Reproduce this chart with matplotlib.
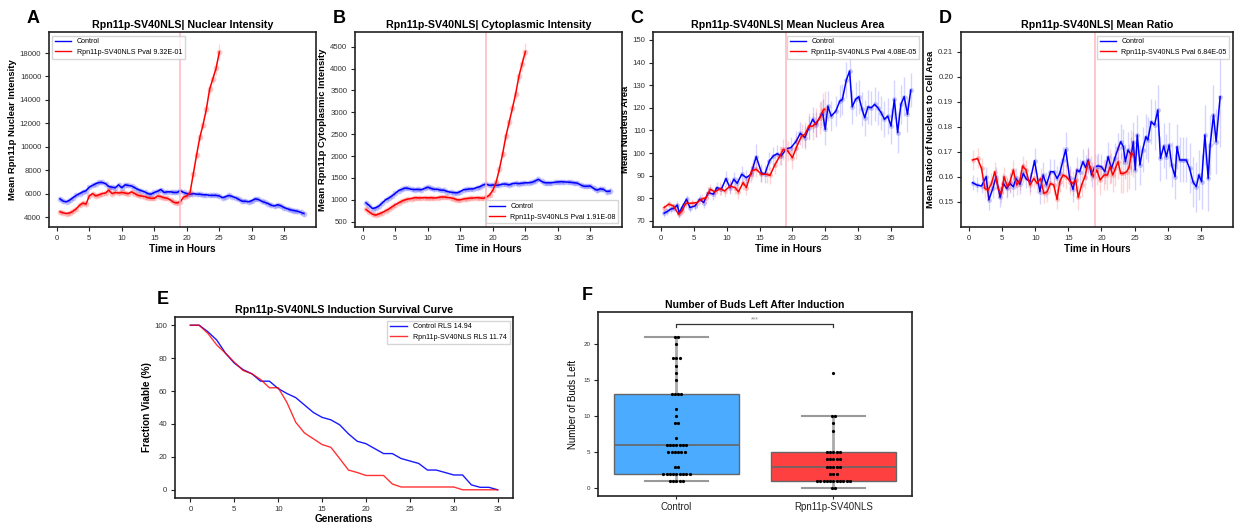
"""Rpn11p-SV40NLS induction figure: four time-course panels, survival curve
and a box/swarm plot of buds left. Saves out.png (1236x527)."""

from collections import Counter

import matplotlib
matplotlib.use("Agg")
import matplotlib.pyplot as plt
from matplotlib.lines import Line2D
import numpy as np

plt.rcParams["font.family"] = ["Liberation Sans", "DejaVu Sans"]

CTRL_COLOR = "#0000ff"
TRT_COLOR = "#ff0000"
TEXT_GRAY = "#333333"

# ---------------------------------------------------------------------- #
# A. nuclear intensity (0.5 h grid)
# ---------------------------------------------------------------------- #
a_ctrl_t = [0.5, 1.0, 1.5, 2.0, 2.5, 3.0, 3.5, 4.0, 4.5, 5.0, 5.5, 6.0, 6.5, 7.0,
            7.5, 8.0, 8.5, 9.0, 9.5, 10.0, 10.5, 11.0, 11.5, 12.0, 12.5, 13.0,
            13.5, 14.0, 14.5, 15.0, 15.5, 16.0, 16.5, 17.0, 17.5, 18.0, 18.5,
            19.0, 19.5, 20.0, 20.5, 21.0, 21.5, 22.0, 22.5, 23.0, 23.5, 24.0,
            24.5, 25.0, 25.5, 26.0, 26.5, 27.0, 27.5, 28.0, 28.5, 29.0, 29.5,
            30.0, 30.5, 31.0, 31.5, 32.0, 32.5, 33.0, 33.5, 34.0, 34.5, 35.0,
            35.5, 36.0, 36.5, 37.0, 37.5, 38.0]
a_ctrl = [5550, 5350, 5300, 5450, 5650, 5850, 6000, 6150, 6250, 6550, 6700, 6850,
          6950, 6950, 6850, 6600, 6550, 6500, 6750, 6500, 6750, 6700, 6650, 6500,
          6350, 6250, 6150, 6000, 5950, 6100, 6200, 6350, 6100, 6150, 6150, 6100,
          6100, 6250, 6100, 6000, 5950, 6000, 5950, 5950, 5900, 5900, 5850, 5850,
          5850, 5800, 5650, 5750, 5850, 5750, 5650, 5500, 5350, 5350, 5300, 5400,
          5550, 5500, 5350, 5250, 5150, 5000, 4950, 5050, 4950, 4800, 4700, 4600,
          4550, 4500, 4400, 4300]
a_ctrl_err = [140, 140, 130, 130, 130, 130, 130, 130, 130, 130, 130, 140, 140,
              140, 140, 140, 140, 140, 140, 140, 140, 140, 140, 140, 140, 140,
              140, 140, 140, 140, 140, 140, 140, 140, 140, 140, 140, 140, 140,
              140, 140, 140, 140, 140, 140, 140, 140, 140, 140, 140, 150, 150,
              150, 150, 150, 150, 150, 150, 150, 160, 160, 160, 160, 160, 160,
              170, 170, 170, 180, 180, 180, 190, 190, 200, 200, 250]
a_trt_t = a_ctrl_t[:50]
a_trt = [4450, 4350, 4300, 4350, 4500, 4700, 5000, 5200, 5100, 5800, 6000, 5800,
         5900, 6000, 6050, 6300, 6000, 6100, 6050, 6100, 6050, 6000, 6150, 6000,
         5850, 5800, 5750, 5650, 5600, 5600, 5800, 5750, 5650, 5600, 5450, 5250,
         5200, 5300, 5700, 5800, 6100, 7700, 9300, 10800, 11900, 13200, 14900,
         15800, 16700, 18100]
a_trt_err = [120, 120, 120, 120, 120, 120, 130, 130, 130, 130, 130, 130, 130, 130,
             130, 130, 130, 130, 130, 130, 130, 130, 130, 130, 130, 130, 130, 130,
             130, 130, 130, 130, 130, 130, 130, 130, 140, 140, 140, 150, 180, 220,
             260, 300, 340, 380, 420, 480, 560, 700]

# ---------------------------------------------------------------------- #
# B. cytoplasmic intensity (0.5 h grid)
# ---------------------------------------------------------------------- #
b_ctrl_t = a_ctrl_t
b_ctrl = [930, 870, 800, 820, 860, 930, 1000, 1040, 1090, 1150, 1210, 1240, 1270,
          1260, 1240, 1235, 1240, 1230, 1260, 1290, 1260, 1240, 1240, 1220, 1220,
          1190, 1175, 1165, 1160, 1190, 1230, 1240, 1250, 1250, 1280, 1300, 1340,
          1360, 1330, 1340, 1330, 1340, 1360, 1360, 1340, 1370, 1380, 1370, 1380,
          1390, 1390, 1400, 1430, 1470, 1420, 1390, 1390, 1390, 1400, 1410, 1415,
          1410, 1405, 1400, 1390, 1380, 1340, 1310, 1310, 1315, 1260, 1220, 1250,
          1240, 1190, 1200]
b_ctrl_err = [40, 35, 30, 30, 30, 30, 30, 30, 30, 30, 30, 30, 30, 30, 30, 30, 30,
              30, 30, 30, 30, 30, 30, 30, 30, 30, 30, 30, 30, 30, 30, 30, 30, 30,
              30, 30, 30, 30, 30, 30, 30, 30, 30, 30, 30, 30, 35, 35, 35, 35, 35,
              35, 35, 40, 40, 40, 40, 40, 40, 40, 40, 40, 40, 40, 45, 45, 45, 45,
              50, 50, 50, 55, 55, 55, 60, 60]
b_trt_t = a_ctrl_t[:50]
b_trt = [780, 720, 670, 650, 680, 710, 750, 790, 840, 890, 930, 970, 1000, 1020,
         1030, 1050, 1045, 1045, 1050, 1045, 1050, 1040, 1050, 1065, 1065, 1055,
         1045, 1030, 1000, 1000, 1020, 1030, 1040, 1040, 1050, 1045, 1035, 1060,
         1110, 1220, 1400, 1700, 2050, 2450, 2770, 3090, 3420, 3820, 4110, 4390]
b_trt_err = [35, 30, 30, 30, 30, 30, 30, 30, 30, 30, 30, 30, 30, 30, 30, 30, 30,
             30, 30, 30, 30, 30, 30, 30, 30, 30, 30, 30, 30, 30, 30, 30, 30, 30,
             30, 30, 30, 35, 40, 50, 60, 70, 80, 90, 100, 110, 120, 140, 160, 200]

# ---------------------------------------------------------------------- #
# C. mean nucleus area
# ---------------------------------------------------------------------- #
c_ctrl_t = [0.5, 1.0, 1.5, 2.0, 2.5, 2.8, 3.2, 3.9, 4.4, 5.2, 5.9, 6.5, 7.2, 8.0,
            8.5, 9.2, 9.9, 10.5, 11.1, 11.6, 12.3, 13.0, 13.7, 14.0, 14.5, 15.3,
            15.8, 16.5, 17.1, 17.7, 18.3, 19.1, 19.8, 20.6, 21.2, 21.9, 22.5, 23.1,
            23.6, 24.4, 24.6, 25.0, 25.4, 25.9, 26.6, 27.2, 27.6, 28.2, 28.7, 29.1,
            29.6, 30.1, 30.6, 31.0, 31.5, 32.0, 32.5, 33.0, 33.5, 34.0, 34.5, 35.0,
            35.5, 36.0, 36.5, 37.0, 37.5, 38.0]
c_ctrl = [73.4, 74.2, 75.2, 75.6, 77.0, 73.4, 75.9, 79.6, 75.9, 76.6, 79.6, 78.1,
          82.5, 81.8, 84.7, 84.0, 88.7, 84.7, 88.4, 86.6, 90.6, 89.1, 90.6, 93.5,
          98.4, 91.3, 90.6, 96.5, 98.7, 99.7, 98.7, 101.9, 102.4, 105.3, 108.7,
          106.8, 111.2, 114.9, 112.6, 117.1, 117.8, 110.4, 120.7, 116.3, 118.5,
          122.9, 123.7, 132.2, 136.2, 120.4, 123.7, 124.9, 119.3, 115.6, 120.4,
          120.0, 121.5, 120.0, 117.8, 114.9, 116.3, 111.9, 123.7, 109.0, 121.5,
          124.9, 117.1, 127.8]
c_ctrl_err = [1.5, 1.5, 1.5, 1.8, 1.8, 1.8, 2.0, 2.0, 2.0, 2.0, 2.2, 2.2, 2.5, 2.5,
              2.5, 2.5, 3.5, 3.0, 3.0, 3.0, 3.5, 3.5, 3.5, 4.0, 5.5, 4.0, 4.0, 4.0,
              4.0, 4.0, 4.0, 4.5, 4.5, 4.5, 5.0, 5.0, 5.0, 5.5, 5.5, 6.0, 6.0, 7.0,
              6.5, 6.5, 6.5, 7.0, 7.0, 8.0, 9.0, 7.5, 7.5, 7.5, 7.5, 8.0, 7.5, 7.5,
              7.5, 7.5, 7.5, 8.0, 8.0, 8.0, 8.5, 9.0, 8.5, 8.5, 8.0, 7.5]
c_trt_t = [0.5, 1.2, 1.9, 2.7, 3.2, 3.8, 4.7, 5.5, 6.2, 6.9, 7.5, 8.2, 9.0, 9.7,
           10.5, 11.3, 11.8, 12.5, 13.0, 13.8, 14.5, 15.3, 16.1, 16.6, 17.3, 18.1,
           18.6, 19.3, 20.0, 20.6, 21.4, 21.9, 22.5, 23.1, 23.6, 24.2, 24.7, 24.9]
c_trt = [75.9, 77.4, 76.6, 72.9, 74.4, 77.8, 77.8, 78.1, 79.6, 80.3, 84.0, 82.8,
         84.3, 83.2, 85.4, 84.7, 82.8, 86.9, 84.7, 92.1, 92.8, 90.6, 90.6, 90.1,
         94.6, 98.7, 101.6, 100.9, 97.9, 102.4, 107.5, 108.2, 111.9, 111.9, 113.4,
         115.6, 119.0, 119.3]
c_trt_err = [1.5, 1.5, 1.5, 1.8, 1.8, 2.0, 2.0, 2.2, 2.2, 2.5, 2.5, 2.5, 2.8, 2.8,
             3.0, 3.0, 3.0, 3.2, 3.2, 3.5, 3.5, 3.5, 3.8, 3.8, 4.0, 4.2, 4.5, 4.5,
             5.0, 5.0, 5.5, 5.5, 6.0, 6.0, 6.5, 7.0, 7.5, 8.0]

# ---------------------------------------------------------------------- #
# D. mean ratio of nucleus to cell area
# ---------------------------------------------------------------------- #
d_ctrl_t = [0.55, 1.2, 1.9, 2.6, 3.0, 3.6, 4.1, 4.7, 5.2, 5.7, 6.2, 6.7, 7.1, 7.7,
            8.2, 8.6, 9.2, 9.9, 10.7, 11.2, 11.7, 12.3, 12.8, 13.3, 13.7, 14.2,
            14.6, 15.2, 15.7, 16.3, 16.7, 17.2, 17.6, 18.0, 18.5, 19.0, 19.5, 20.0,
            20.5, 21.0, 21.5, 22.0, 22.5, 22.9, 23.3, 23.6, 24.0, 24.5, 24.8, 25.1,
            25.4, 25.8, 26.2, 26.7, 27.0, 27.5, 28.0, 28.5, 28.9, 29.4, 29.8, 30.2,
            30.6, 31.1, 31.4, 31.8, 32.3, 32.8, 33.3, 33.8, 34.3, 34.7, 35.1, 35.6,
            36.1, 36.4, 36.9, 37.3, 37.9]
d_ctrl = [0.1576, 0.1567, 0.1563, 0.1600, 0.1507, 0.1553, 0.1600, 0.1517, 0.1573,
          0.1553, 0.1573, 0.1560, 0.1593, 0.1570, 0.1613, 0.1593, 0.1580, 0.1664,
          0.1540, 0.1607, 0.1567, 0.1620, 0.1620, 0.1593, 0.1613, 0.1667, 0.1709,
          0.1593, 0.1549, 0.1627, 0.1620, 0.1660, 0.1637, 0.1667, 0.1607, 0.1640,
          0.1643, 0.1640, 0.1620, 0.1680, 0.1633, 0.1673, 0.1713, 0.1740, 0.1720,
          0.1660, 0.1707, 0.1687, 0.1740, 0.1627, 0.1767, 0.1647, 0.1707, 0.1760,
          0.1747, 0.1820, 0.1807, 0.1867, 0.1673, 0.1723, 0.1680, 0.1727, 0.1647,
          0.1600, 0.1720, 0.1667, 0.1667, 0.1667, 0.1633, 0.1580, 0.1560, 0.1607,
          0.1580, 0.1767, 0.1593, 0.1727, 0.1847, 0.1740, 0.1920]
d_ctrl_err = [0.003, 0.003, 0.003, 0.004, 0.004, 0.004, 0.004, 0.004, 0.004,
              0.004, 0.004, 0.004, 0.004, 0.004, 0.004, 0.004, 0.004, 0.005,
              0.005, 0.005, 0.005, 0.005, 0.005, 0.005, 0.005, 0.005, 0.007,
              0.005, 0.005, 0.005, 0.005, 0.005, 0.005, 0.005, 0.005, 0.005,
              0.005, 0.005, 0.005, 0.006, 0.006, 0.006, 0.006, 0.007, 0.007,
              0.007, 0.007, 0.007, 0.008, 0.008, 0.008, 0.008, 0.009, 0.009,
              0.009, 0.009, 0.010, 0.010, 0.009, 0.009, 0.009, 0.009, 0.009,
              0.009, 0.009, 0.009, 0.009, 0.009, 0.010, 0.010, 0.010, 0.010,
              0.011, 0.012, 0.013, 0.012, 0.012, 0.013, 0.020]
d_trt_t = [0.55, 1.3, 1.9, 2.4, 2.9, 3.4, 3.9, 4.4, 4.9, 5.3, 5.8, 6.2, 6.7, 7.2,
           7.7, 8.1, 8.6, 9.2, 9.8, 10.3, 10.8, 11.3, 11.8, 12.3, 12.8, 13.3, 13.7,
           14.2, 14.7, 15.3, 15.7, 16.1, 16.5, 17.0, 17.5, 18.0, 18.4, 18.8, 19.3,
           19.8, 20.4, 20.9, 21.3, 21.7, 22.1, 22.5, 22.9, 23.3, 23.8, 24.2, 24.5,
           24.8]
d_trt = [0.1667, 0.1673, 0.1633, 0.1553, 0.1547, 0.1573, 0.1620, 0.1553, 0.1533,
         0.1600, 0.1560, 0.1580, 0.1627, 0.1567, 0.1587, 0.1643, 0.1627, 0.1567,
         0.1593, 0.1573, 0.1593, 0.1533, 0.1540, 0.1573, 0.1567, 0.1509, 0.1580,
         0.1607, 0.1600, 0.1580, 0.1573, 0.1587, 0.1517, 0.1567, 0.1600, 0.1660,
         0.1633, 0.1600, 0.1627, 0.1587, 0.1607, 0.1607, 0.1640, 0.1607, 0.1633,
         0.1660, 0.1613, 0.1613, 0.1620, 0.1640, 0.1696, 0.1687]
d_trt_err = [0.004, 0.004, 0.004, 0.004, 0.004, 0.004, 0.004, 0.004, 0.004,
             0.004, 0.004, 0.004, 0.004, 0.004, 0.004, 0.004, 0.004, 0.004,
             0.004, 0.004, 0.004, 0.004, 0.004, 0.004, 0.004, 0.004, 0.004,
             0.005, 0.005, 0.005, 0.005, 0.005, 0.005, 0.005, 0.005, 0.005,
             0.005, 0.006, 0.006, 0.006, 0.006, 0.006, 0.007, 0.007, 0.007,
             0.007, 0.008, 0.008, 0.008, 0.009, 0.009, 0.009]

# ---------------------------------------------------------------------- #
# E. survival curves
# ---------------------------------------------------------------------- #
generations = list(range(36))
surv_ctrl = [100, 100, 96, 91, 83, 77, 73, 70.5, 66, 66, 61.5, 58.5, 56, 51.5, 47,
             44, 42.5, 39.5, 34, 29.5, 28, 25, 22, 22, 19, 17.5, 16, 12, 12, 10.5,
             9, 9, 3, 1.5, 1.5, 0]
surv_trt = [100, 100, 95, 88, 83, 77.5, 72.5, 70.5, 67, 62, 62, 53, 41, 34.5, 31,
            27.5, 25.8, 19, 12, 10.5, 8.7, 8.7, 8.7, 3.5, 1.7, 1.7, 1.7, 1.7, 1.7,
            1.7, 1.7, 0, 0, 0, 0, 0]

# ---------------------------------------------------------------------- #
# F. buds left after induction
# ---------------------------------------------------------------------- #
buds_ctrl = [21, 21, 20, 18, 18, 18, 17, 16, 15, 13, 13, 13, 13, 11, 10, 9, 9, 7,
             6, 6, 6, 6, 6, 6, 6, 5, 5, 5, 5, 5, 5, 3, 3,
             2, 2, 2, 2, 2, 2, 2, 2, 2, 1, 1, 1, 1, 1]
buds_trt = [16, 10, 10, 9, 8, 5, 5, 5, 5, 5, 4, 4, 4, 4, 4, 3, 3, 3, 3, 3,
            2, 2, 2, 1, 1, 1, 1, 1, 1, 1, 1, 1, 1, 1, 0, 0]
bud_groups = ["Control", "Rpn11p-SV40NLS"]


def _style(ax):
    for s in ax.spines.values():
        s.set_color("#222222")
        s.set_linewidth(1.2)
    ax.tick_params(labelsize=5.6, colors="#222222", labelcolor=TEXT_GRAY,
                   length=3, width=0.8, pad=2.5)


def _series(ax, t, v, err, color, ms):
    ax.errorbar(t, v, yerr=err, fmt="none", ecolor=color, alpha=0.17, lw=1.0)
    ax.plot(t, v, "o", color=color, alpha=0.22, ms=ms, mew=0)
    ax.plot(t, v, "-", color=color, lw=1.1)


def time_panel(rect, letter, title, ylabel, ctrl, trt, pval, legend_loc,
               ylim, yticks, ms=3.5):
    ax = fig.add_axes(rect)
    _series(ax, *ctrl, CTRL_COLOR, ms)
    _series(ax, *trt, TRT_COLOR, ms)
    ax.axvline(19, color="#ffb3c0", lw=1.3, alpha=0.8)
    ax.set_xlim(-1.2, 39.85)
    ax.set_ylim(*ylim)
    ax.set_xticks(range(0, 36, 5))
    ax.set_yticks(yticks)
    ax.set_title(title, fontsize=7.7, fontweight="bold", pad=3)
    ax.set_xlabel("Time in Hours", fontsize=7.2, fontweight="bold", labelpad=2)
    ax.set_ylabel(ylabel, fontsize=6.8, fontweight="bold", labelpad=2)
    handles = [Line2D([], [], color=CTRL_COLOR, lw=1),
               Line2D([], [], color=TRT_COLOR, lw=1)]
    ax.legend(handles, ["Control", f"Rpn11p-SV40NLS Pval {pval}"],
              loc=legend_loc, fontsize=5.1, frameon=True, edgecolor="#cccccc",
              fancybox=False, handlelength=2.2, borderpad=0.4)
    _style(ax)
    fig.text(rect[0] - 0.018, 0.965, letter, fontsize=13, fontweight="bold",
             va="center", ha="left")
    return ax


fig = plt.figure(figsize=(12.36, 5.27), dpi=100)

time_panel([0.0396, 0.5693, 0.216, 0.370], "A",
           "Rpn11p-SV40NLS| Nuclear Intensity", "Mean Rpn11p Nuclear Intensity",
           (a_ctrl_t, a_ctrl, a_ctrl_err), (a_trt_t, a_trt, a_trt_err),
           "9.32E-01", "upper left", (3150, 19800), range(4000, 18001, 2000),
           ms=4.2)
time_panel([0.2872, 0.5693, 0.216, 0.370], "B",
           "Rpn11p-SV40NLS| Cytoplasmic Intensity",
           "Mean Rpn11p Cytoplasmic Intensity",
           (b_ctrl_t, b_ctrl, b_ctrl_err), (b_trt_t, b_trt, b_trt_err),
           "1.91E-08", "lower right", (379, 4837), range(500, 4501, 500),
           ms=4.2)
time_panel([0.5283, 0.5693, 0.2184, 0.370], "C",
           "Rpn11p-SV40NLS| Mean Nucleus Area", "Mean Nucleus Area",
           (c_ctrl_t, c_ctrl, c_ctrl_err), (c_trt_t, c_trt, c_trt_err),
           "4.08E-05", "upper right", (67.3, 153.5), range(70, 151, 10))
time_panel([0.7775, 0.5693, 0.2201, 0.370], "D",
           "Rpn11p-SV40NLS| Mean Ratio", "Mean Ratio of Nucleus to Cell Area",
           (d_ctrl_t, d_ctrl, d_ctrl_err), (d_trt_t, d_trt, d_trt_err),
           "6.84E-05", "upper right", (0.1399, 0.2179),
           [0.15, 0.16, 0.17, 0.18, 0.19, 0.20, 0.21])

# E: survival
axE = fig.add_axes([0.1416, 0.055, 0.2735, 0.3435])
axE.plot(generations, surv_ctrl, color=CTRL_COLOR, lw=1.0, alpha=0.9,
         label="Control RLS 14.94")
axE.plot(generations, surv_trt, color=TRT_COLOR, lw=1.0, alpha=0.8,
         label="Rpn11p-SV40NLS RLS 11.74")
axE.set_xticks(range(0, 36, 5))
axE.set_yticks(range(0, 101, 20))
axE.set_title("Rpn11p-SV40NLS Induction Survival Curve", fontsize=7.7,
              fontweight="bold", pad=3)
axE.set_xlabel("Generations", fontsize=7.2, fontweight="bold", labelpad=1)
axE.set_ylabel("Fraction Viable (%)", fontsize=7.2, fontweight="bold",
               labelpad=2)
axE.legend(loc="upper right", fontsize=5.1, frameon=True, edgecolor="#cccccc",
           fancybox=False, handlelength=2.4)
_style(axE)
fig.text(0.127, 0.432, "E", fontsize=13, fontweight="bold", va="center")

# F: box + swarm
axF = fig.add_axes([0.4838, 0.0588, 0.254, 0.349])
bp = axF.boxplot([buds_ctrl, buds_trt], positions=[0, 1], widths=0.8,
                 patch_artist=True, showfliers=False, capwidths=0.4,
                 boxprops=dict(edgecolor="#666666", lw=1.0),
                 whiskerprops=dict(color="#aaaaaa", lw=2.0),
                 capprops=dict(color="#999999", lw=1.5),
                 medianprops=dict(color="#666666", lw=1.2))
for patch, col in zip(bp["boxes"], ["#4aabff", "#ff4040"]):
    patch.set_facecolor(col)
for pos, vals in enumerate([buds_ctrl, buds_trt]):
    for val, n in Counter(vals).items():
        xs = pos + (np.arange(n) - (n - 1) / 2) * 0.021
        axF.plot(xs, [val] * n, "o", color="black", ms=2.3, mew=0, zorder=5)
# significance bracket
axF.plot([0, 0, 1, 1], [22.3, 22.7, 22.7, 22.3], color="#333333", lw=0.9)
axF.text(0.5, 22.9, "***", ha="center", va="bottom", fontsize=5,
         color="#888888")
axF.set_xlim(-0.5, 1.5)
axF.set_ylim(-1.07, 24.4)
axF.set_xticks([0, 1])
axF.set_xticklabels(bud_groups)
axF.set_yticks([0, 5, 10, 15, 20])
axF.set_title("Number of Buds Left After Induction", fontsize=7.5,
              fontweight="bold", pad=3)
axF.set_ylabel("Number of Buds Left", fontsize=7)
_style(axF)
axF.tick_params(axis="y", labelsize=4.5)
axF.tick_params(axis="x", labelsize=7, labelcolor="#222222", length=2)
fig.text(0.471, 0.44, "F", fontsize=13, fontweight="bold", va="center")

fig.savefig("out.png", dpi=100)
